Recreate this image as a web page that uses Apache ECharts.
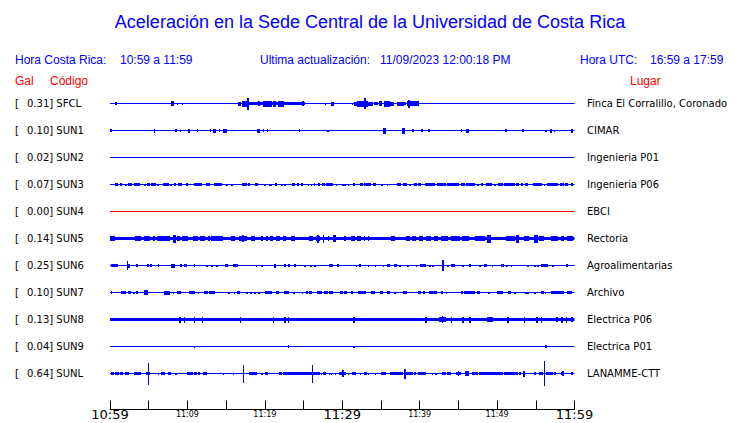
<!DOCTYPE html>
<html><head><meta charset="utf-8">
<script src="https://cdn.jsdelivr.net/npm/echarts@6/dist/echarts.min.js"></script>
<style>html,body{margin:0;padding:0;background:#fff}#c{width:740px;height:423px}</style>
</head><body><div id="c"></div>
<script>
// ---------- DATA ----------
const titleText = 'Aceleración en la Sede Central de la Universidad de Costa Rica';
const localLabel = 'Hora Costa Rica:';
const localRange = '10:59 a 11:59';
const updateLabel = 'Ultima actualización:';
const updateTime = '11/09/2023 12:00:18 PM';
const utcLabel = 'Hora UTC:';
const utcRange = '16:59 a 17:59';
const galHeader = 'Gal';
const codeHeader = 'Código';
const placeHeader = 'Lugar';

const codes  = ['SFCL','SUN1','SUN2','SUN3','SUN4','SUN5','SUN6','SUN7','SUN8','SUN9','SUNL'];
const gal    = ['0.31','0.10','0.02','0.07','0.00','0.14','0.25','0.10','0.13','0.04','0.64'];
const places = ['Finca El Corralillo, Coronado','CIMAR','Ingenieria P01','Ingenieria P06','EBCI','Rectoria',
                'Agroalimentarias','Archivo','Electrica P06','Electrica P01','LANAMME-CTT'];

// time axis: seconds after 10:59:00, labels every 600 s
const spanSeconds = 3600;
const tickLabels = ['10:59','11:09','11:19','11:29','11:39','11:49','11:59'];
const majorTickLabels = ['10:59','11:29','11:59'];

// bursts per station: [startSecond, endSecond, halfAmplitude]
const burstsSFCL = [[46,52,1.5],[477,495,2.5],[521,529,1],[560,568,1],[993,1019,2],[1027,1058,3],[1066,1074,6],
 [1071,1509,1.5],[1151,1166,2.5],[1192,1259,3],[1269,1285,3],[1303,1347,3],[1489,1504,2.5],[1667,1675,1],
 [1716,1734,2],[1876,1884,1],[1896,1961,2],[1922,1961,3],[1961,2000,3],[1974,1982,5.5],[2000,2038,2],
 [2051,2077,1.5],[2085,2110,2.5],[2129,2167,3],[2172,2198,2],[2232,2276,2],[2284,2296,1.5],[2309,2394,2.5],[2317,2325,4]];
const burstsSUN1 = [[0,13,1.5],[343,351,2],[508,516,1.5],[544,552,1],[606,622,2],[676,684,1.5],[777,785,1.5],
 [805,820,2],[846,854,1.5],[882,906,2],[1146,1161,2],[1187,1195,1.5],[1218,1226,1.5],[1465,1473,1.5],
 [1682,1695,1],[2123,2136,3],[2270,2283,3],[2348,2356,1.5],[2417,2425,1.5],[2472,2480,1.5],[2722,2730,1.5],
 [2763,2784,2],[3068,3076,1.5],[3199,3207,1.5],[3375,3383,1],[3413,3429,2],[3444,3452,1],[3576,3591,2]];
const burstsSUN2 = [];
const burstsSUN3 = [[39,64,1.5],[85,95,1.5],[121,132,1],[147,168,1.5],[188,230,1.5],[266,276,1],[292,307,1.5],
 [323,353,1.5],[369,377,1],[413,457,1.5],[472,482,1],[498,508,1.5],[529,555,1.5],[596,606,1.5],[653,715,1.5],
 [748,774,1.5],[813,869,1.5],[903,911,1],[942,950,1],[1029,1060,1.5],[1071,1086,1.5],[1127,1148,1.5],
 [1200,1208,1],[1236,1244,1],[1251,1259,1],[1282,1298,1.5],[1329,1337,1],[1355,1363,1],[1411,1437,1.5],
 [1453,1468,1.5],[1484,1499,1.5],[1535,1543,1],[1561,1569,1],[1582,1592,1.5],[1613,1628,1.5],[1649,1664,1.5],
 [1680,1695,1.5],[1705,1731,1.5],[1752,1760,1],[1803,1811,1],[1819,1827,1],[1845,1853,1],[1886,1901,1.5],
 [1943,1963,1.5],[1974,2025,1.5],[2041,2061,1.5],[2108,2116,1],[2149,2157,1],[2232,2258,1.5],[2278,2299,1.5],
 [2325,2333,1],[2361,2376,1.5],[2392,2412,1.5],[2443,2469,1.5],[2479,2516,1.5],[2541,2562,1.5],[2572,2603,1.5],
 [2619,2706,1.5],[2722,2748,1.5],[2763,2830,1.5],[2851,2861,1],[2877,2892,1.5],[2918,2959,1.5],[2980,2990,1],
 [3011,3042,1.5],[3057,3135,1.5],[3150,3171,1.5],[3186,3202,1.5],[3217,3243,1.5],[3279,3346,1.5],[3367,3375,1],
 [3393,3475,1.5],[3491,3517,1.5],[3527,3553,1.5],[3573,3589,1.5]];
const burstsSUN4 = [];
const burstsSUN5 = [[0,39,2.5],[194,240,2.5],[266,310,2.5],[335,348,2.5],[369,377,2.5],[387,464,2.5],[490,508,4],
 [524,542,2.5],[560,606,2.5],[645,684,2.5],[704,735,2.5],[761,774,2.5],[787,877,2.5],[942,968,2.5],[1006,1058,2.5],
 [1030,1038,3.5],[1097,1122,2.5],[1174,1182,2.5],[1213,1221,2.5],[1246,1264,2.5],[1290,1316,2.5],[1342,1367,2.5],
 [1406,1437,2.5],[1548,1574,2.5],[1600,1625,2.5],[1610,1618,4],[1651,1659,4],[1690,1698,2.5],[1736,1752,3.5],
 [1819,1827,2.5],[1871,1896,2.5],[1922,1948,2.5],[1969,1977,2.5],[2000,2008,2.5],[2180,2211,2.5],[2296,2322,2.5],
 [2348,2374,2.5],[2399,2425,2.5],[2451,2490,2.5],[2516,2541,2.5],[2567,2619,2.5],[2645,2709,2.5],[2735,2786,2.5],
 [2830,2903,2.5],[2928,2949,4],[3070,3135,2.5],[3148,3173,4],[3212,3251,2.5],[3290,3315,4],[3328,3367,2.5],
 [3419,3470,2.5],[3496,3522,2.5],[3548,3586,2.5]];
const burstsSUN6 = [[13,64,1.5],[134,142,4.5],[147,155,2],[206,214,1.5],[292,300,1.5],[315,323,1.5],[374,382,1.5],
 [477,503,2],[550,560,1.5],[581,596,1.5],[653,661,1.5],[748,756,1],[787,795,1],[826,834,1],[895,911,1.5],
 [955,993,1.5],[1135,1143,1],[1174,1182,1],[1277,1287,2],[1355,1363,1.5],[1385,1396,1.5],[1432,1440,1.5],
 [1509,1517,1],[1556,1564,1],[1587,1595,1],[1703,1726,1.5],[1767,1775,1.5],[1909,1917,1],[1932,1943,1.5],
 [2000,2008,1],[2056,2064,1],[2116,2124,1],[2149,2170,1.5],[2206,2227,1.5],[2247,2255,1],[2309,2317,1],
 [2374,2382,1],[2407,2451,1.5],[2477,2485,1],[2503,2511,1],[2580,2588,5.5],[2619,2627,1],[2645,2675,1.5],
 [2735,2743,1],[2786,2799,1.5],[2864,2872,1],[2903,2918,1.5],[2962,2970,1],[3037,3052,1.5],[3075,3083,1],
 [3109,3117,1],[3238,3246,1],[3290,3298,1],[3315,3323,1],[3341,3393,1.5],[3432,3440,1],[3535,3548,1.5]];
const burstsSUN7 = [[8,18,1.5],[90,121,1.5],[147,163,1.5],[181,194,1],[209,219,1.5],[266,297,2.5],[426,464,2],
 [490,498,1],[524,550,1.5],[619,658,1.5],[684,692,1],[735,761,1.5],[774,813,1.5],[921,929,1],[962,970,1],
 [988,1009,1.5],[1058,1066,1],[1089,1097,1],[1122,1130,1],[1153,1161,1],[1207,1256,1.5],[1293,1313,1.5],
 [1349,1385,1.5],[1422,1437,1],[1489,1497,1],[1520,1535,1.5],[1548,1566,1.5],[1607,1643,1.5],[1659,1690,1.5],
 [1703,1729,1.5],[1788,1809,1.5],[1819,1834,1.5],[1871,1886,1.5],[1927,1987,1.5],[2025,2051,1.5],[2098,2113,1.5],
 [2149,2170,1.5],[2206,2214,1],[2278,2304,1.5],[2392,2412,1.5],[2433,2443,1.5],[2477,2531,1.5],[2572,2583,1.5],
 [2606,2614,1],[2722,2732,1.5],[2748,2830,1.5],[2846,2866,1.5],[2933,2944,1],[3006,3047,1.5],[3088,3109,1.5],
 [3135,3143,1],[3220,3228,1],[3238,3246,1],[3290,3298,1],[3341,3362,1.5],[3372,3382,1],[3419,3522,1.5],[3542,3584,1.5]];
const burstsSUN8 = [[539,547,3],[575,583,3],[653,661,3],[715,723,3],[1009,1017,3],[1264,1272,3],[1355,1363,3],
 [1380,1388,3],[1891,1899,3],[2448,2456,3],[2554,2606,2.5],[2576,2584,3.5],[2645,2653,3],[2735,2743,3],[2786,2794,3],
 [2928,2967,2.5],[3083,3091,3],[3212,3220,3],[3308,3316,3],[3341,3349,3],[3457,3475,2.5],[3501,3509,3],
 [3535,3543,3],[3573,3586,2.5]];
const burstsSUN9 = [[653,661,1],[1380,1388,1.5],[1891,1899,1],[3375,3383,1.5]];
const burstsSUNL = [[15,31,1.5],[46,72,1.5],[83,103,1.5],[119,144,1.5],[191,237,1.5],[284,310,1.5],[297,305,11],
 [374,382,1],[400,426,1.5],[452,470,1.5],[511,519,1],[599,645,1.5],[658,671,1.5],[684,697,1.5],[728,748,1.5],
 [877,885,1],[955,963,1],[1032,1040,9],[1084,1140,1.5],[1174,1182,1],[1207,1228,1.5],[1316,1336,1.5],
 [1347,1563,1.5],[1566,1574,9],[1574,1625,1.5],[1638,1646,1],[1656,1677,1.5],[1698,1706,1],[1716,1724,1],
 [1744,1752,1],[1780,1832,1.5],[1803,1811,3.5],[1845,1853,1],[1883,1904,1.5],[1940,1948,1],[1976,1992,1.5],
 [2002,2010,1],[2054,2062,1],[2103,2141,1.5],[2172,2270,1.5],[2286,2294,5],[2296,2348,1.5],[2361,2374,1.5],
 [2394,2451,1.5],[2497,2505,1],[2523,2531,1],[2580,2601,1.5],[2619,2645,1.5],[2683,2722,1.5],[2700,2708,2.5],
 [2755,2786,2.5],[2812,2851,1.5],[2864,3044,1.5],[3057,3160,1.5],[3173,3186,1.5],[3207,3215,3],[3290,3302,1.5],
 [3328,3354,1.5],[3367,3375,12.5],[3380,3431,1.5],[3444,3457,1.5],[3496,3522,1.5],[3509,3517,2.5],[3573,3591,1.5]];

const bursts = [burstsSFCL,burstsSUN1,burstsSUN2,burstsSUN3,burstsSUN4,burstsSUN5,burstsSUN6,burstsSUN7,burstsSUN8,burstsSUN9,burstsSUNL];

// ---------- STYLE ----------
const traceColors = codes.map(c => c === 'SUN4' ? '#ff0000' : '#0000ff');
const baseWidths = codes.map(c => (c === 'SUN5' || c === 'SUN8') ? 3 : 1);
const BLUE = '#0000ff', RED = '#ff0000';
const rowTop0 = 103.5, rowStep = 27, half = 13;
const plotLeft = 110, plotRight = 165.5;

const chart = echarts.init(document.getElementById('c'), null, {renderer: 'svg'});

function renderBurst(params, api) {
  const p0 = api.coord([api.value(0), api.value(2)]);
  const p1 = api.coord([api.value(1), -api.value(2)]);
  const x0 = Math.floor(p0[0]);
  const x1 = Math.max(x0 + 1, Math.round(p1[0]));
  const y0 = Math.round(p0[1]);
  const y1 = Math.max(y0 + 1, Math.round(p1[1]));
  return {type: 'rect', shape: {x: x0, y: y0, width: x1 - x0, height: y1 - y0},
          style: {fill: api.visual('color')}};
}

const grids = [], xAxes = [], yAxes = [], series = [], graphics = [];
codes.forEach((code, i) => {
  const cy = rowTop0 + i * rowStep;
  grids.push({left: plotLeft, right: plotRight, top: cy - half, height: 2 * half});
  xAxes.push({type: 'value', gridIndex: i, min: 0, max: spanSeconds, show: false});
  yAxes.push({type: 'value', gridIndex: i, min: -half, max: half, show: false});
  series.push({type: 'line', xAxisIndex: i, yAxisIndex: i, data: [[0, 0], [spanSeconds, 0]],
    symbol: 'none', silent: true, animation: false,
    lineStyle: {color: traceColors[i], width: baseWidths[i]}});
  series.push({type: 'custom', xAxisIndex: i, yAxisIndex: i, data: bursts[i], renderItem: renderBurst,
    itemStyle: {color: traceColors[i]}, silent: true, animation: false, clip: false,
    encode: {x: [0, 1], y: 2}});
  const ty = Math.floor(cy);
  graphics.push({type: 'text', left: 15, top: ty - 5, style: {text: '[', fill: '#000', font: '10px "DejaVu Sans"'}});
  graphics.push({type: 'text', left: 27, top: ty - 5, style: {text: gal[i] + '] ' + code, fill: '#000', font: '10px "DejaVu Sans"'}});
  graphics.push({type: 'text', left: 587, top: ty - 5, style: {text: places[i], fill: '#000', font: '10px "DejaVu Sans"'}});
});

// bottom time axis
const ai = codes.length;
grids.push({left: plotLeft, right: plotRight, top: 400, height: 9.5});
xAxes.push({type: 'value', gridIndex: ai, min: 0, max: spanSeconds, interval: 300,
  axisLine: {show: true, lineStyle: {color: '#000', width: 1}},
  axisTick: {show: true, inside: true, length: 9, lineStyle: {color: '#000'}},
  splitLine: {show: false},
  axisLabel: {show: true, margin: -2, color: '#000', showMinLabel: true, showMaxLabel: true, hideOverlap: false,
    formatter: v => {
      if (v % 600 !== 0) return '';
      const lab = tickLabels[v / 600];
      return majorTickLabels.includes(lab) ? '{big|' + lab + '}' : '{small|' + lab + '}';
    },
    rich: {big: {fontSize: 13, fontFamily: 'DejaVu Sans', color: '#000'},
           small: {fontSize: 8, fontFamily: 'DejaVu Sans', color: '#000', padding: [3, 0, 0, 0]}}}});
yAxes.push({type: 'value', gridIndex: ai, min: 0, max: 1, show: false});

// header texts
const hf = '12px "Liberation Sans"';
graphics.push({type: 'text', left: 'center', top: 13, style: {text: titleText, fill: BLUE, font: '18px "Liberation Sans"'}});
graphics.push({type: 'text', left: 15, top: 54, style: {text: localLabel, fill: BLUE, font: hf}});
graphics.push({type: 'text', left: 120, top: 54, style: {text: localRange, fill: BLUE, font: hf}});
graphics.push({type: 'text', left: 260, top: 54, style: {text: updateLabel, fill: BLUE, font: hf}});
graphics.push({type: 'text', left: 380, top: 54, style: {text: updateTime, fill: BLUE, font: hf}});
graphics.push({type: 'text', left: 580, top: 54, style: {text: utcLabel, fill: BLUE, font: hf}});
graphics.push({type: 'text', left: 650, top: 54, style: {text: utcRange, fill: BLUE, font: hf}});
graphics.push({type: 'text', left: 15, top: 75, style: {text: galHeader, fill: RED, font: hf}});
graphics.push({type: 'text', left: 50, top: 75, style: {text: codeHeader, fill: RED, font: hf}});
graphics.push({type: 'text', left: 630, top: 75, style: {text: placeHeader, fill: RED, font: hf}});

chart.setOption({
  animation: false,
  backgroundColor: '#fff',
  grid: grids, xAxis: xAxes, yAxis: yAxes, series: series,
  graphic: graphics
});
</script></body></html>
